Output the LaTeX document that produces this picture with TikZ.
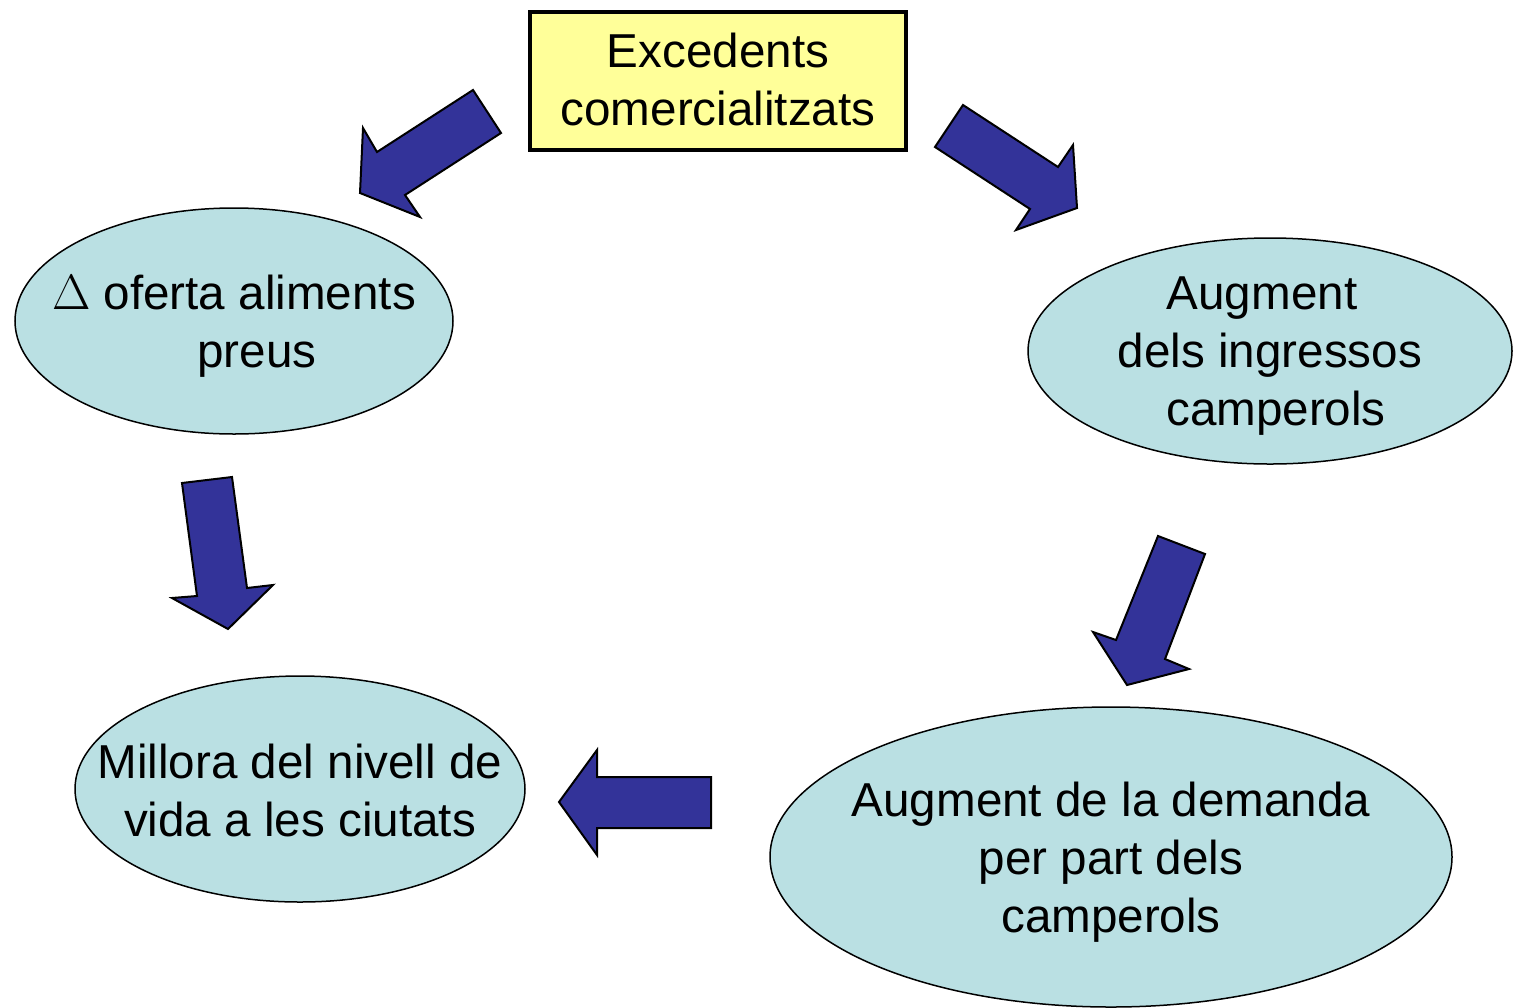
\documentclass[tikz,border=0pt]{standalone}
\usepackage{fontspec}
\setmainfont{Liberation Sans}
\usepackage{tikz}
\tikzset{>=latex}
\usetikzlibrary{shapes.geometric}
\definecolor{arrowblue}{RGB}{51,51,153}
\definecolor{bubblecyan}{RGB}{186,224,227}
\definecolor{boxyellow}{RGB}{255,255,153}
\def\txtsize{\fontsize{23.8}{29}\selectfont}

\begin{document}
\begin{tikzpicture}[x=0.5pt, y=-0.5pt,
    bubble/.style={ellipse, draw=black, line width=0.75pt, fill=bubblecyan, inner sep=0pt},
    txt/.style={align=center, font=\txtsize, inner sep=0pt, yshift=-2.5pt},
    blockarrow/.style={draw=black, line width=1pt, fill=arrowblue, line join=miter}]

   \useasboundingbox (0,0) rectangle (1513,1007);

   % box on top
   \node[draw=black, line width=2pt, fill=boxyellow, minimum width=188pt, minimum height=69pt, inner sep=0pt] (excess) at (718,81) {};
   \node[txt, yshift=3.5pt] (excess-txt) at (excess) {Excedents\\comercialitzats};

   % the four ellipses
   \node[bubble, minimum width=219pt, minimum height=113pt] (supply) at (234,321) {};
   \node[bubble, minimum width=242pt, minimum height=113pt] (income) at (1270,351) {};
   \node[bubble, minimum width=225pt, minimum height=113pt] (living) at (300,789) {};
   \node[bubble, minimum width=341pt, minimum height=150pt] (demand) at (1111,857) {};

   \node[txt] (supply-txt) at (supply) {$\Delta$ oferta aliments\\\hspace*{23pt}preus};
   \node[txt] (income-txt) at (income) {Augment\hspace*{8pt}\\dels ingressos\\\hspace*{6pt}camperols};
   \node[txt, yshift=2pt] (living-txt) at (living) {Millora del nivell de\\vida a les ciutats};
   \node[txt] (demand-txt) at (demand) {Augment de la demanda\\per part dels\\camperols};

   % block arrows
   \draw[blockarrow] (473,90) -- (501,133) -- (405,195) -- (420,217) -- (360,193) -- (363,128) -- (377,152) -- cycle;
   \draw[blockarrow] (963,105) -- (935,147) -- (1030,209) -- (1016,230) -- (1077,208) -- (1073,145) -- (1058,167) -- cycle;
   \draw[blockarrow] (182,483) -- (232,477) -- (247,588) -- (273,585) -- (228,629) -- (172,598) -- (197,596) -- cycle;
   \draw[blockarrow] (1158,536) -- (1205,554) -- (1165,659) -- (1189,669) -- (1127,685) -- (1093,632) -- (1116,640) -- cycle;
   \draw[blockarrow] (711,777) -- (711,828) -- (597,828) -- (597,855) -- (559,802) -- (597,750) -- (597,777) -- cycle;

\end{tikzpicture}
\end{document}
